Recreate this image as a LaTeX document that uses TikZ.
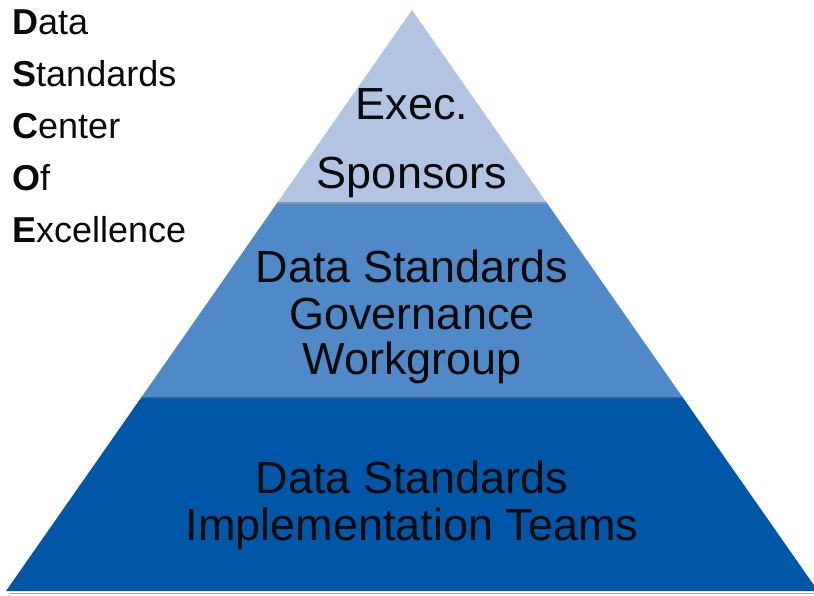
\documentclass[tikz,border=0pt]{standalone}
\usepackage{fontspec}
\setmainfont{Liberation Sans}
\definecolor{topc}{HTML}{B1C5E3}
\definecolor{midc}{HTML}{4F89C8}
\definecolor{botc}{HTML}{0157A7}
\definecolor{lineA}{HTML}{7F98BE}
\definecolor{lineB}{HTML}{2F5F96}
\definecolor{txt}{HTML}{0A0A0A}
\begin{document}
\begin{tikzpicture}[x=1pt,y=-1pt,
  lbl/.style={anchor=base, inner sep=0pt, text=txt, font=\fontsize{45}{45}\selectfont},
  side/.style={anchor=base west, inner sep=0pt, text=txt, font=\fontsize{36}{36}\selectfont}]
\useasboundingbox (0,0) rectangle (814,596);
\begin{scope}
\clip (0,0) rectangle (814,596);
\coordinate (apex) at (412,10);
\coordinate (bl) at (6,591);
\coordinate (br) at (818,591);
\coordinate (a1) at (277.1,203);
\coordinate (a2) at (546.9,203);
\coordinate (b1) at (140.9,398);
\coordinate (b2) at (683.1,398);
\fill[botc] (b1) -- (b2) -- (br) -- (bl) -- cycle;
\fill[midc] (a1) -- (a2) -- (b2) -- (b1) -- cycle;
\fill[topc] (apex) -- (a2) -- (a1) -- cycle;
\draw[lineA, line width=1.2pt] (a1) -- (a2);
\draw[lineB, line width=1.2pt] (b1) -- (b2);
\draw[black!30, line width=1.5pt] (9,593.5) -- (814,593.5);
\end{scope}
\node[lbl] (t1) at (412,120) {Exec.};
\node[lbl] (t2) at (412,189) {Sponsors};
\node[lbl] (m1) at (412,282) {Data Standards};
\node[lbl] (m2) at (412,329) {Governance};
\node[lbl] (m3) at (412,374) {Workgroup};
\node[lbl] (b1t) at (412,493) {Data Standards};
\node[lbl] (b2t) at (412,540) {Implementation Teams};
\node[side] (s1) at (12,35) {\textbf{D}ata};
\node[side] (s2) at (12,87) {\textbf{S}tandards};
\node[side] (s3) at (12,139) {\textbf{C}enter};
\node[side] (s4) at (12,191) {\textbf{O}f};
\node[side] (s5) at (12,243) {\textbf{E}xcellence};
\end{tikzpicture}
\end{document}
